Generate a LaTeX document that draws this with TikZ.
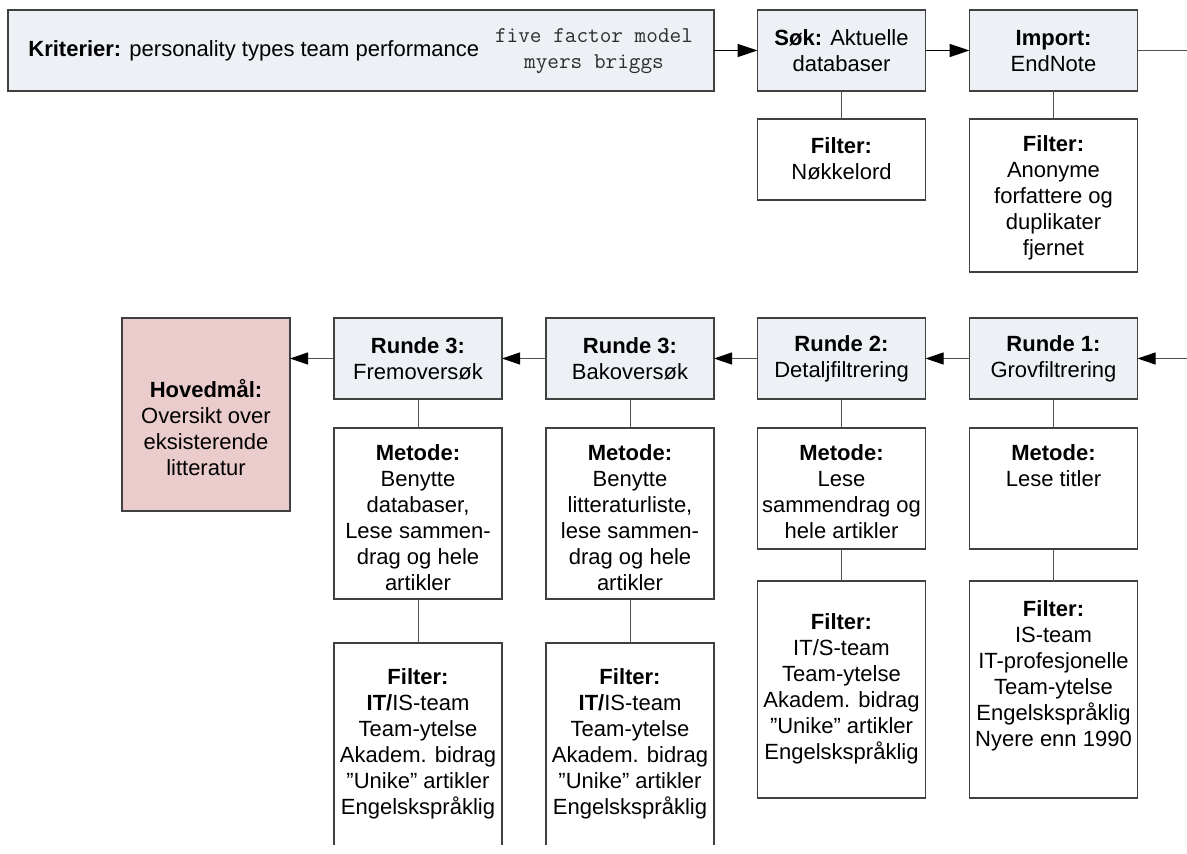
\documentclass[tikz,border=0pt]{standalone}
\usepackage{fontspec}
\setmainfont{Liberation Sans}
\usetikzlibrary{arrows.meta}
\definecolor{stepfill}{RGB}{237,240,245}
\definecolor{goalfill}{RGB}{235,204,204}
\definecolor{boxline}{RGB}{64,64,64}
\definecolor{wire}{RGB}{80,80,80}
\definecolor{monotext}{RGB}{45,45,45}
\begin{document}
\begin{tikzpicture}[x=0.5pt,y=-0.5pt,
  box/.style={draw=boxline, line width=0.55pt, inner sep=0pt, outer sep=0pt,
              minimum width=84pt},
  stepbox/.style={box, fill=stepfill, minimum height=40.5pt},
  infobox/.style={box, fill=white},
  openbox/.style={inner sep=0pt, outer sep=0pt, minimum width=84pt},
  txt/.style={align=center, inner sep=0pt, font=\fontsize{11}{13}\selectfont},
  flow/.style={draw=black, line width=0.8pt, -{Triangle[length=10pt,width=6.5pt]}},
  back/.style={draw=wire, line width=0.5pt, -{Triangle[length=9pt,width=6pt,color=black]}},
  link/.style={draw=wire, line width=0.5pt}]
\useasboundingbox (0,0) rectangle (1187,854);
\clip (0,0) rectangle (1187,854);

% ---------- search phase (top row) ----------
\node[box, fill=stepfill, minimum width=353pt, minimum height=40.5pt] (krit) at (361,50.5) {};
\node[txt, anchor=west] (kritT) at (28,51) {\textbf{Kriterier:} personality types team performance};
\node[txt, font=\fontsize{11.3}{13}\ttfamily, text=monotext] (kritM) at (594,51) {five factor model\\myers briggs};

\node[stepbox] (sok) at (841.5,50.5) {};
\node[txt] (sokT) at (841.5,51) {\textbf{Søk:} Aktuelle\\databaser};
\node[stepbox] (imp) at (1053.5,50.5) {};
\node[txt] (impT) at (1053.5,51) {\textbf{Import:}\\EndNote};

\node[infobox, minimum height=40.5pt] (sokf) at (841.5,159.5) {};
\node[txt] (sokfT) at (841.5,159) {\textbf{Filter:}\\Nøkkelord};
\node[infobox, minimum height=76.5pt] (impf) at (1053.5,195.5) {};
\node[txt] (impfT) at (1053.5,198) {\textbf{Filter:}\\Anonyme\\forfattere og\\duplikater\\fjernet};

% ---------- screening rounds (lower row) ----------
\node[box, fill=goalfill, minimum height=96.5pt] (hoved) at (206,414.5) {};
\node[txt] (hovedT) at (206,428) {\textbf{Hovedmål:}\\Oversikt over\\eksisterende\\litteratur};

\node[stepbox] (r3f) at (418,358.5) {};
\node[txt] (r3fT) at (418,358.5) {\textbf{Runde 3:}\\Fremoversøk};
\node[stepbox] (r3b) at (630,358.5) {};
\node[txt] (r3bT) at (630,358.5) {\textbf{Runde 3:}\\Bakoversøk};
\node[stepbox] (r2) at (841.5,358.5) {};
\node[txt] (r2T) at (841.5,358.5) {\textbf{Runde 2:}\\Detaljfiltrering};
\node[stepbox] (r1) at (1053.5,358.5) {};
\node[txt] (r1T) at (1053.5,358.5) {\textbf{Runde 1:}\\Grovfiltrering};

% methods
\node[infobox, minimum height=85.5pt] (m3f) at (418,513.5) {};
\node[txt] (m3fT) at (418,518) {\textbf{Metode:}\\Benytte\\databaser,\\Lese sammen-\\drag og hele\\artikler};
\node[infobox, minimum height=85.5pt] (m3b) at (630,513.5) {};
\node[txt] (m3bT) at (630,518) {\textbf{Metode:}\\Benytte\\litteraturliste,\\lese sammen-\\drag og hele\\artikler};
\node[infobox, minimum height=60.5pt] (m2) at (841.5,488.5) {};
\node[txt] (m2T) at (841.5,492) {\textbf{Metode:}\\Lese\\sammendrag og\\hele artikler};
\node[infobox, minimum height=60.5pt] (m1) at (1053.5,488.5) {};
\node[txt] (m1T) at (1053.5,466) {\textbf{Metode:}\\Lese titler};

% filters
\node[openbox, minimum height=101pt] (f3f) at (418,744) {};
\draw[draw=boxline, line width=0.55pt] (f3f.south west) |- (f3f.north east) -- (f3f.south east);
\node[txt] (f3fT) at (418,744) {\textbf{Filter:}\\\textbf{IT/}IS-team\\Team-ytelse\\Akadem. bidrag\\”Unike” artikler\\Engelskspråklig};
\node[openbox, minimum height=101pt] (f3b) at (630,744) {};
\draw[draw=boxline, line width=0.55pt] (f3b.south west) |- (f3b.north east) -- (f3b.south east);
\node[txt] (f3bT) at (630,744) {\textbf{Filter:}\\\textbf{IT/}IS-team\\Team-ytelse\\Akadem. bidrag\\”Unike” artikler\\Engelskspråklig};
\node[infobox, minimum height=108.5pt] (f2) at (841.5,689.5) {};
\node[txt] (f2T) at (841.5,689) {\textbf{Filter:}\\IT/S-team\\Team-ytelse\\Akadem. bidrag\\”Unike” artikler\\Engelskspråklig};
\node[infobox, minimum height=108.5pt] (f1) at (1053.5,689.5) {};
\node[txt] (f1T) at (1053.5,676) {\textbf{Filter:}\\IS-team\\IT-profesjonelle\\Team-ytelse\\Engelskspråklig\\Nyere enn 1990};

% ---------- connectors ----------
\draw[flow] (krit.east) -- (sok.west);
\draw[flow] (sok.east) -- (imp.west);
\draw[link] (sok.south) -- (sokf.north);
\draw[link] (imp.south) -- (impf.north);
\coordinate (turn) at (1230,50.5);
\draw[back] (imp.east) -- (turn) |- (r1.east);
\draw[back] (r1.west) -- (r2.east);
\draw[back] (r2.west) -- (r3b.east);
\draw[back] (r3b.west) -- (r3f.east);
\draw[back] (r3f.west) -- (hoved.east |- r3f.west);
\draw[link] (r3f.south) -- (m3f.north);
\draw[link] (r3b.south) -- (m3b.north);
\draw[link] (r2.south) -- (m2.north);
\draw[link] (r1.south) -- (m1.north);
\draw[link] (m3f.south) -- (f3f.north);
\draw[link] (m3b.south) -- (f3b.north);
\draw[link] (m2.south) -- (f2.north);
\draw[link] (m1.south) -- (f1.north);
\end{tikzpicture}
\end{document}
